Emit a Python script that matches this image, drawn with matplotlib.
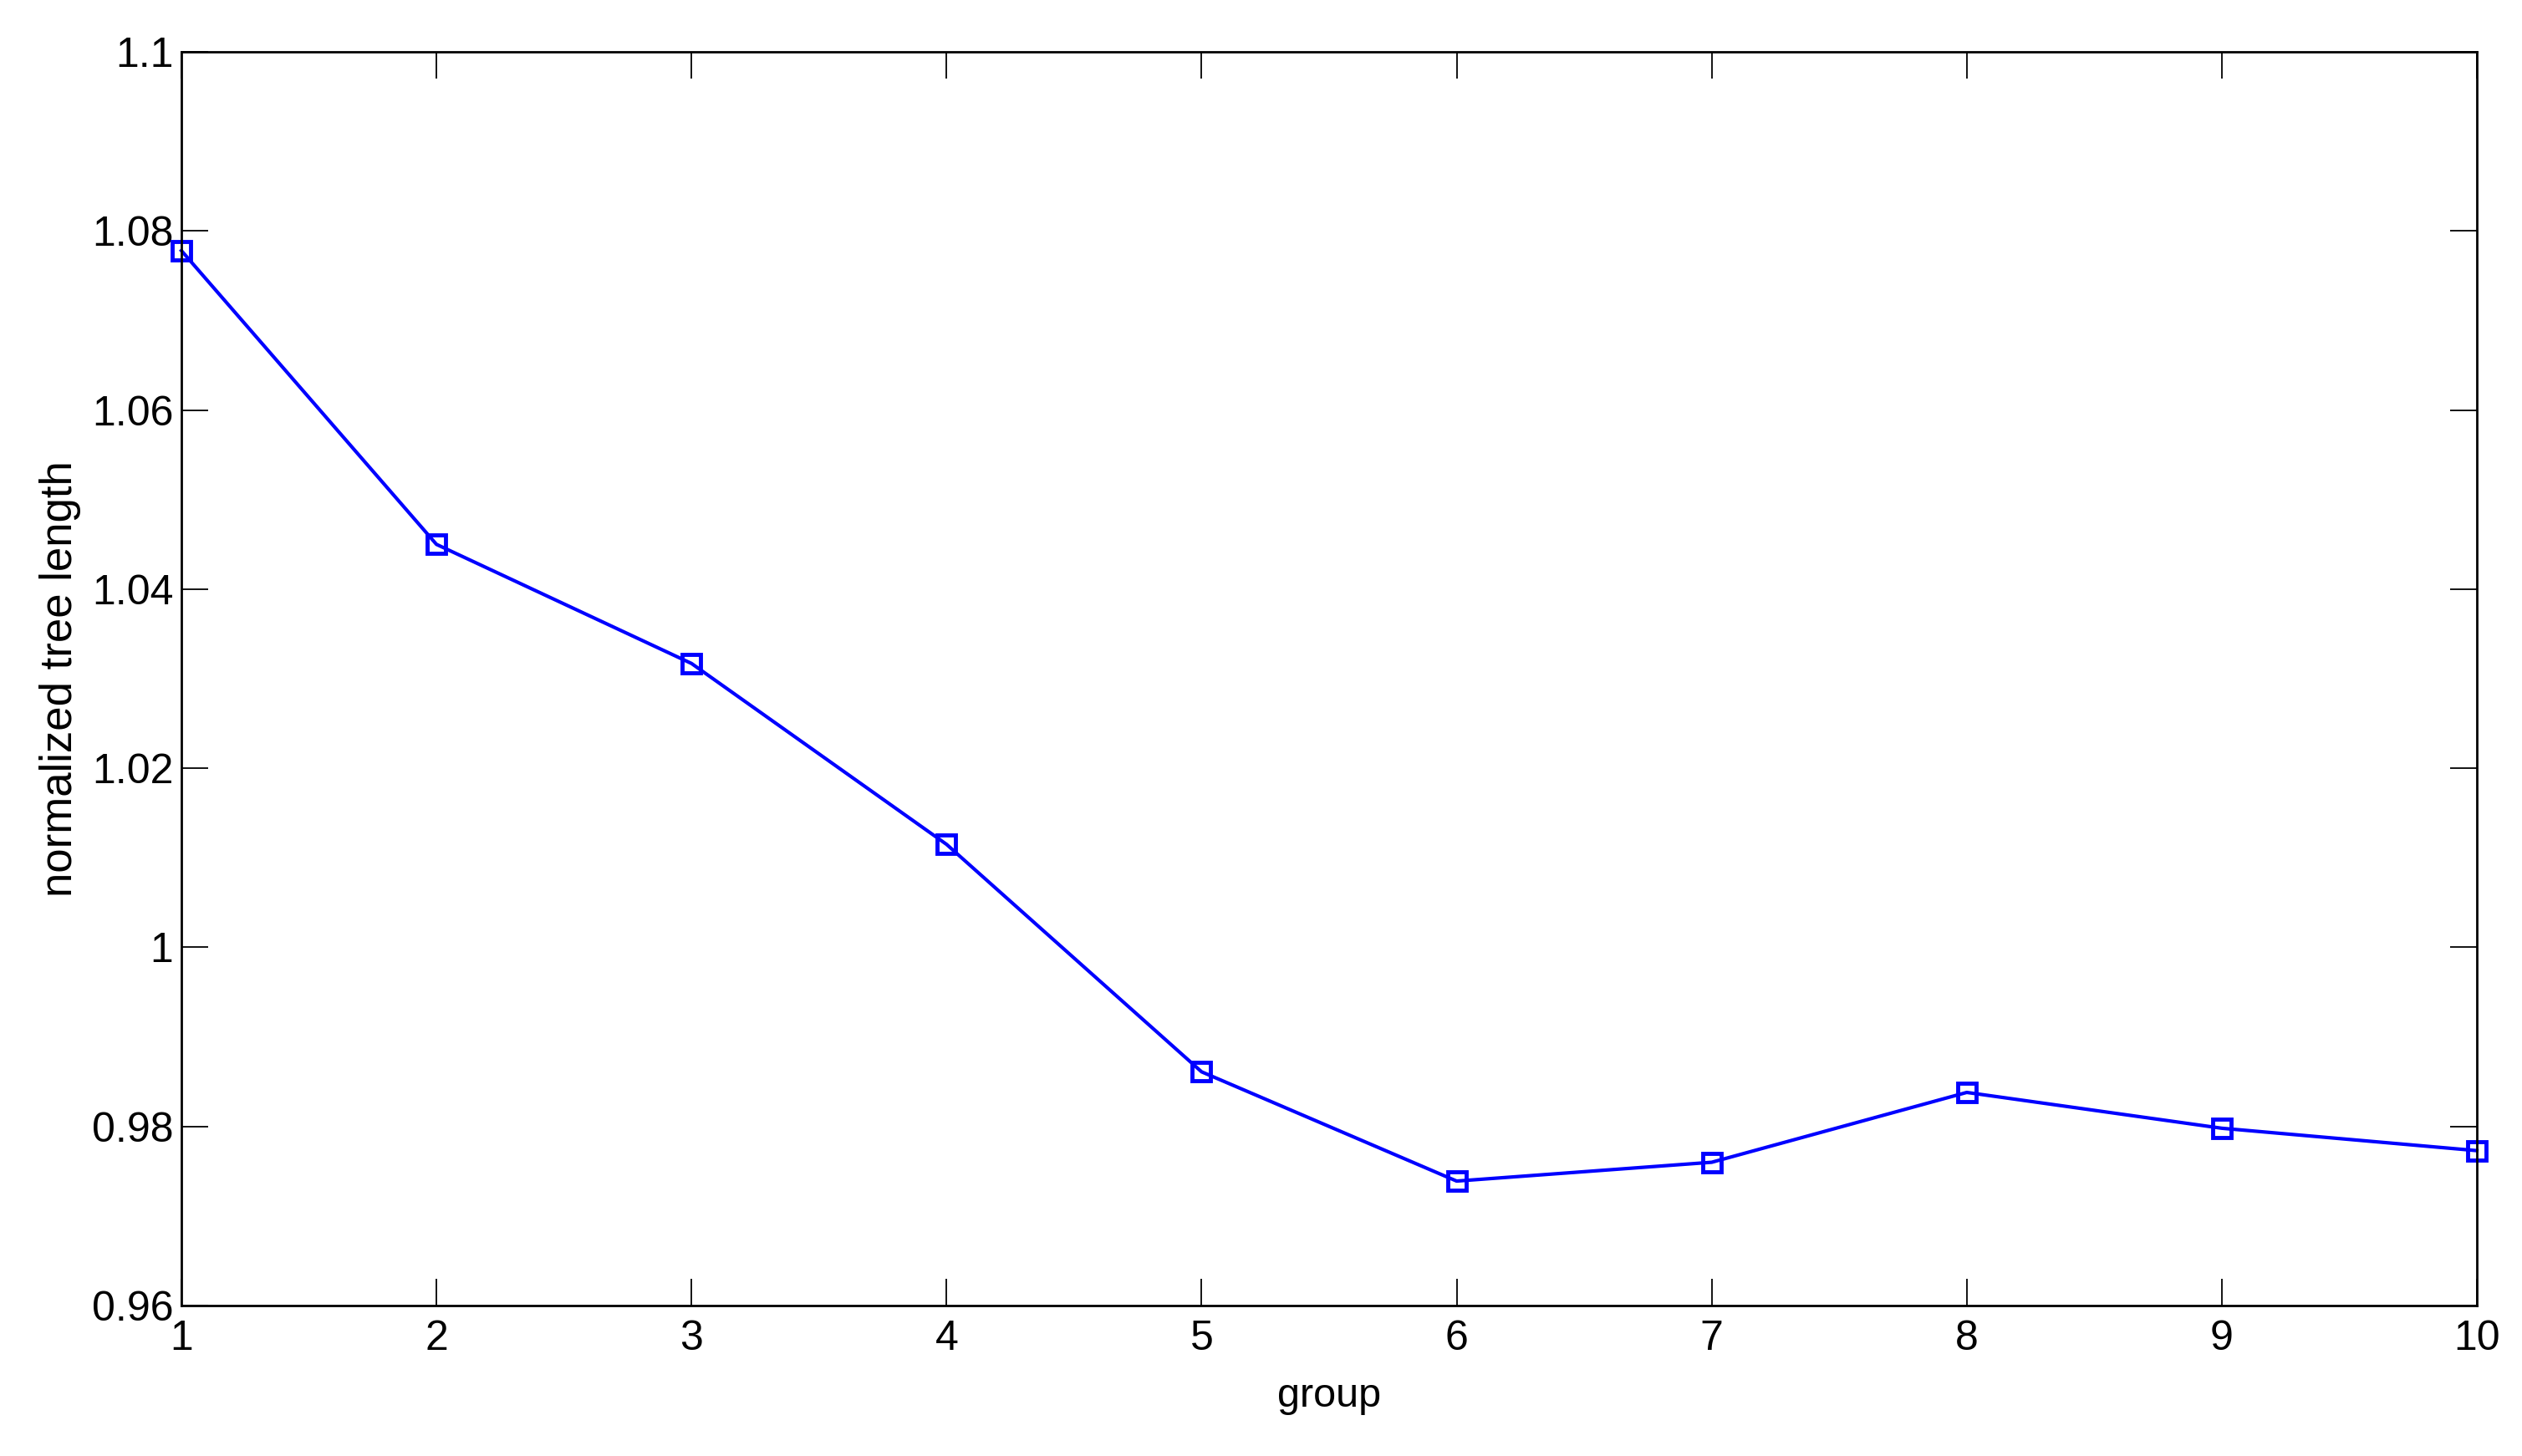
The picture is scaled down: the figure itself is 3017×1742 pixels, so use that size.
import matplotlib
matplotlib.use("Agg")
import matplotlib.pyplot as plt

# values
groups = [1, 2, 3, 4, 5, 6, 7, 8, 9, 10]
tree_length = [1.0778, 1.0450, 1.0317, 1.0115, 0.9861, 0.9739, 0.9760, 0.9838, 0.9798, 0.9773]
yticks = [0.96, 0.98, 1.0, 1.02, 1.04, 1.06, 1.08, 1.1]
ytick_labels = ["0.96", "0.98", "1", "1.02", "1.04", "1.06", "1.08", "1.1"]

plt.rcParams["font.family"] = ["Liberation Sans", "DejaVu Sans"]

fig = plt.figure(figsize=(30.17, 17.42), dpi=100)
ax = fig.add_axes([217 / 3017, 1 - 1562 / 1742, (2963 - 217) / 3017, (1562 - 62) / 1742])

ax.plot(groups, tree_length, color="#0000ff", linewidth=3, marker="s", markersize=16,
        markerfacecolor="none", markeredgecolor="#0000ff", markeredgewidth=3.5, clip_on=False)

ax.set_xlim(1, 10)
ax.set_ylim(0.96, 1.1)
ax.set_xticks(groups)
ax.set_yticks(yticks)
ax.set_yticklabels(ytick_labels)
ax.tick_params(direction="in", length=23, width=1.3, labelsize=36, top=True, right=True)
ax.tick_params(axis="x", pad=12)
ax.tick_params(axis="y", pad=7)
for s in ax.spines.values():
    s.set_linewidth(2)

ax.set_xlabel("group", fontsize=35, labelpad=17)
ax.set_ylabel("normalized tree length", fontsize=38, labelpad=9)

fig.savefig("out.png", dpi=100)
